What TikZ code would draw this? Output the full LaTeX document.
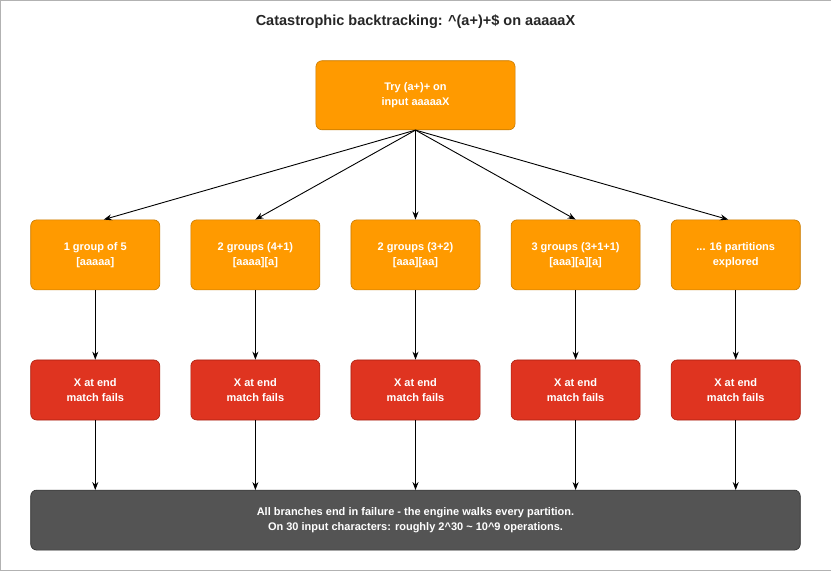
\documentclass[tikz,border=0pt]{standalone}
\usepackage{fontspec}
\setmainfont{Liberation Sans}
\usetikzlibrary{arrows.meta}
\definecolor{org}{HTML}{FF9A00}
\definecolor{orgd}{HTML}{C77A00}
\definecolor{rd}{HTML}{DF3420}
\definecolor{rdd}{HTML}{A8200F}
\definecolor{dg}{HTML}{545454}
\definecolor{dgd}{HTML}{2E2E2E}
\begin{document}
\begin{tikzpicture}[x=1pt,y=-1pt,
 box/.style={draw,rounded corners=6pt,minimum width=129pt,minimum height=#1,align=center,text=white,font=\bfseries\fontsize{11}{15}\selectfont,line width=0.6pt},
 ob/.style={box=70pt,fill=org,draw=orgd},
 rb/.style={box=60pt,fill=rd,draw=rdd},
 ar/.style={-{Stealth[length=8pt,width=6pt]},line width=0.9pt}]
\path[use as bounding box,draw=gray!60,fill=white] (0.5,0.5) rectangle (830.5,570.5);
\node[font=\bfseries\fontsize{14.5}{17}\selectfont,text=black!85] (title) at (415.5,22) {Catastrophic backtracking: \^{}(a+)+\$ on aaaaaX};
\node[box=69pt,minimum width=199pt,fill=org,draw=orgd] (top) at (415.5,95.5) {Try (a+)+ on\\input aaaaaX};
\foreach \i/\x/\t in {1/95.5/{1 group of 5\\{[aaaaa]}},2/255.5/{2 groups (4+1)\\{[aaaa][a]}},3/415.5/{2 groups (3+2)\\{[aaa][aa]}},4/575.5/{3 groups (3+1+1)\\{[aaa][a][a]}},5/735.5/{... 16 partitions\\explored}}{
 \node[ob] (p\i) at (\x,255) {\t};
 \node[rb] (f\i) at (\x,390) {X at end\\match fails};
 \draw[ar] (p\i) -- (f\i);
}
\node[box=60pt,minimum width=769pt,fill=dg,draw=dgd] (end) at (415.5,520) {All branches end in failure - the engine walks every partition.\\On 30 input characters: roughly 2\^{}30 \textasciitilde{} 10\^{}9 operations.};
\foreach \i/\x in {1/104,2/255.5,3/415.5,4/575.5,5/728}{
 \coordinate (a\i) at (\x,219.7);
 \draw[ar] (top.south) -- (a\i);
}
\foreach \i/\x in {1/95.5,2/255.5,3/415.5,4/575.5,5/735.5}{
 \coordinate (b\i) at (\x,490);
 \draw[ar] (f\i.south) -- (b\i);
}
\end{tikzpicture}
\end{document}
